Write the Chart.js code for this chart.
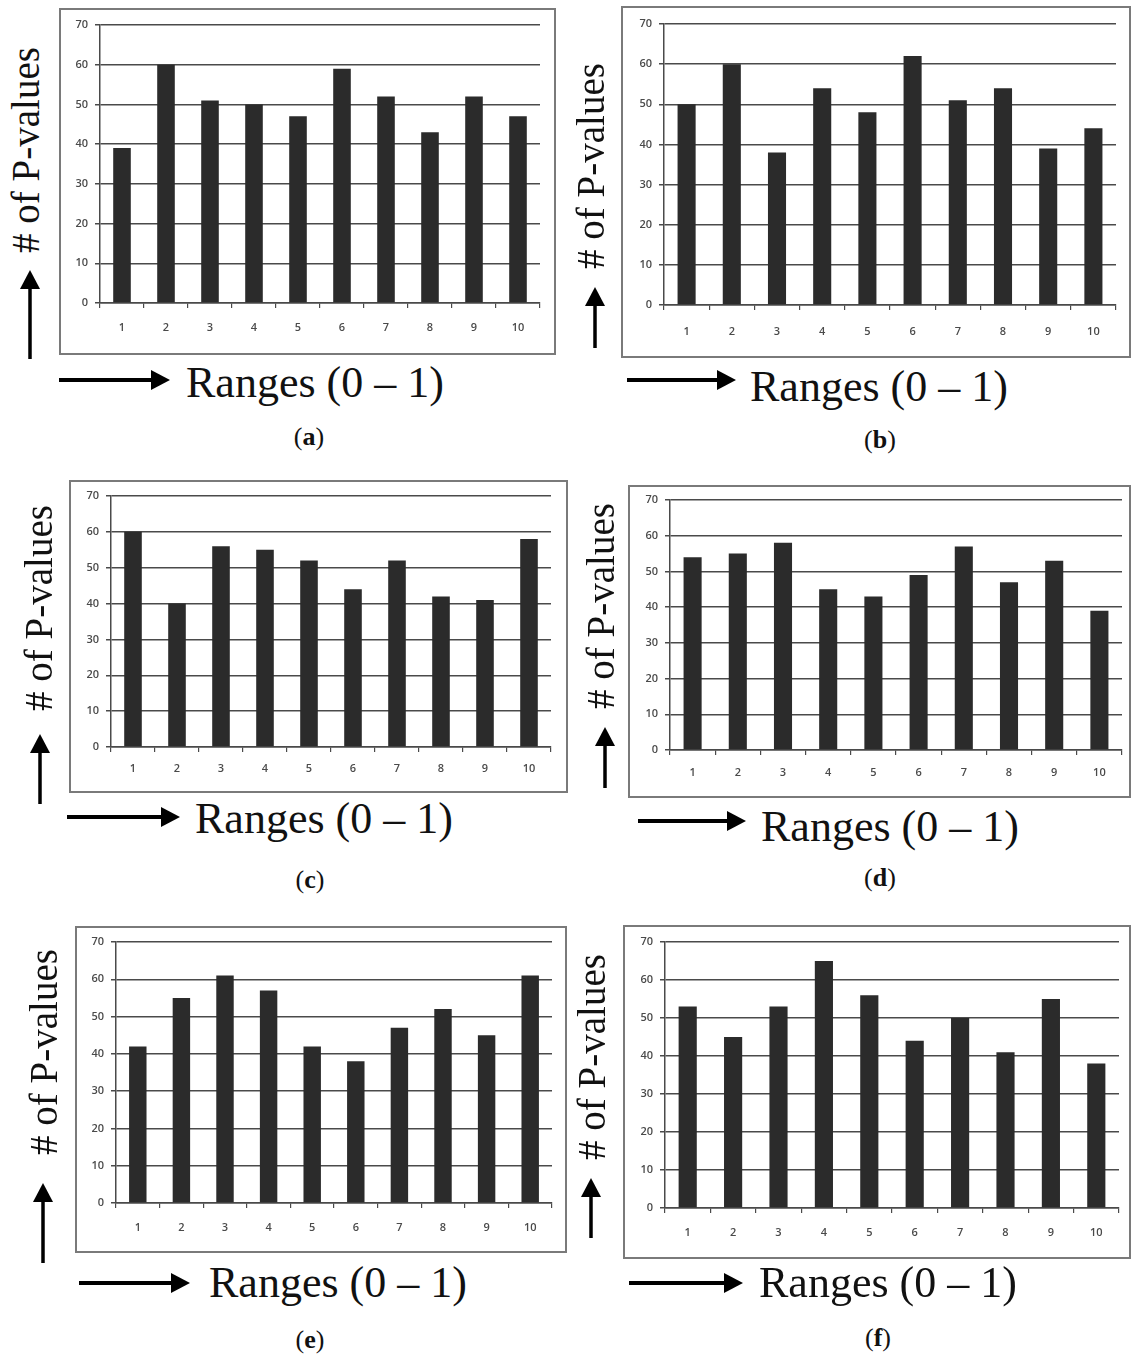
<!DOCTYPE html>
<html><head><meta charset="utf-8">
<script src="https://cdn.jsdelivr.net/npm/chart.js@4.4.1/dist/chart.umd.min.js"></script>
<style>
html,body{margin:0;padding:0;background:#fff;}
#page{position:relative;width:1132px;height:1360px;overflow:hidden;background:#fff;}
.box{position:absolute;box-sizing:border-box;border:2px solid #7a7a7a;pointer-events:none;}
canvas.ch{position:absolute;}
.ylab{position:absolute;font-family:"Liberation Serif","Times New Roman",serif;font-size:39px;line-height:1;white-space:nowrap;transform:translate(-50%,-50%) rotate(-90deg);color:#111;}
.xlab{position:absolute;font-family:"Liberation Serif","Times New Roman",serif;font-size:44px;line-height:1;white-space:nowrap;color:#111;}
.cap{position:absolute;font-family:"Liberation Serif","Times New Roman",serif;font-size:26px;line-height:1;white-space:nowrap;transform:translate(-50%,-50%);color:#111;}
svg.arr{position:absolute;left:0;top:0;}
</style></head>
<body><div id="page"><svg class="arr" id="arrows" width="1132" height="1360"></svg></div>
<script>
// ---- data ----
const categories = ['1','2','3','4','5','6','7','8','9','10'];
const yTickValues = [0,10,20,30,40,50,60,70];
const valuesA = [39,60,51,50,47,59,52,43,52,47];
const valuesB = [50,60,38,54,48,62,51,54,39,44];
const valuesC = [60,40,56,55,52,44,52,42,41,58];
const valuesD = [54,55,58,45,43,49,57,47,53,39];
const valuesE = [42,55,61,57,42,38,47,52,45,61];
const valuesF = [53,45,53,65,56,44,50,41,55,38];
const panelLetters = ['a','b','c','d','e','f'];
const yTitle = '# of P-values';
const xTitle = 'Ranges (0 \u2013 1)';

// ---- layout (positions only) ----
const panels = [
  {vals:valuesA, box:[59,8,556,355],    plot:[100,540,25,303],    tpad:13, up:[30,270,359],   right:[380,59,170],   xl:[186,398],  cap:[309,437],  yl:[25,150]},
  {vals:valuesB, box:[621,6,1131,358],  plot:[664,1116,24,305],   tpad:15, up:[595,287,348],  right:[380,627,736],  xl:[750,402],  cap:[880,440],  yl:[590,166]},
  {vals:valuesC, box:[69,480,568,793],  plot:[111,551,496,747],   tpad:10, up:[40,734,804],   right:[817,67,180],   xl:[195,834],  cap:[310,880],  yl:[38,608]},
  {vals:valuesD, box:[628,485,1131,798],plot:[670,1122,500,750],  tpad:11, up:[605,727,788],  right:[821,638,746],  xl:[761,842],  cap:[880,878],  yl:[600,606]},
  {vals:valuesE, box:[75,926,567,1253], plot:[116,552,942,1203],  tpad:13, up:[43,1183,1263], right:[1283,79,190],  xl:[209,1298], cap:[310,1340], yl:[43,1052]},
  {vals:valuesF, box:[623,925,1131,1259],plot:[665,1119,942,1208],tpad:13, up:[591,1178,1238],right:[1283,629,743], xl:[759,1298], cap:[878,1338], yl:[591,1057]}
];

const page = document.getElementById('page');
const svg = document.getElementById('arrows');
const NS = 'http://www.w3.org/2000/svg';
function svgEl(tag, attrs){const e=document.createElementNS(NS,tag);for(const k in attrs)e.setAttribute(k,attrs[k]);svg.appendChild(e);return e;}

const tickFont = {family:'"Open Sans", "Liberation Sans", sans-serif', size:11, weight:'600'};
const gridCol = '#4a4a4a';

panels.forEach((p, i) => {
  const [l,t,r,b] = p.box;
  const [x0,x1,yTop,yBot] = p.plot;
  const W = r - l, H = b - t;
  const cv = document.createElement('canvas');
  cv.className = 'ch';
  cv.width = W; cv.height = H;
  cv.style.left = l + 'px'; cv.style.top = t + 'px';
  cv.style.width = W + 'px'; cv.style.height = H + 'px';
  page.appendChild(cv);
  const bx = document.createElement('div');
  bx.className = 'box';
  bx.style.left = l + 'px'; bx.style.top = t + 'px';
  bx.style.width = W + 'px'; bx.style.height = H + 'px';
  page.appendChild(bx);

  new Chart(cv, {
    type: 'bar',
    data: { labels: categories, datasets: [{ data: p.vals, backgroundColor: '#2b2b2b', borderWidth: 0, categoryPercentage: 1, barPercentage: 0.4 }] },
    options: {
      responsive: false, animation: false, devicePixelRatio: 1,
      layout: { padding: { left: 0, top: yTop - t, right: r - x1, bottom: 0 } },
      plugins: { legend: { display: false }, tooltip: { enabled: false } },
      scales: {
        x: {
          grid: { display: true, drawOnChartArea: false, drawTicks: true, tickLength: 5, offset: true, color: gridCol, lineWidth: 1.2 },
          border: { display: true, color: gridCol, width: 1.5 },
          ticks: { font: tickFont, color: '#4a4a4a', padding: p.tpad, maxRotation: 0 },
          afterFit: (s) => { s.height = b - yBot; }
        },
        y: {
          min: 0, max: 70,
          afterBuildTicks: (s) => { s.ticks = yTickValues.map(v => ({value: v})); },
          grid: { color: gridCol, lineWidth: 1.5, tickLength: 5, drawTicks: true },
          border: { display: true, color: gridCol, width: 1.5 },
          ticks: { font: tickFont, color: '#4a4a4a', padding: 7 },
          afterFit: (s) => { s.width = x0 - l; }
        }
      }
    }
  });

  const yl = document.createElement('div');
  yl.className = 'ylab'; yl.textContent = yTitle;
  yl.style.left = p.yl[0] + 'px'; yl.style.top = p.yl[1] + 'px';
  page.appendChild(yl);
  const xl = document.createElement('div');
  xl.className = 'xlab'; xl.textContent = xTitle;
  xl.style.left = p.xl[0] + 'px'; xl.style.top = (p.xl[1] - 36.85) + 'px';
  page.appendChild(xl);
  const cp = document.createElement('div');
  cp.className = 'cap';
  cp.innerHTML = '(<b>' + panelLetters[i] + '</b>)';
  cp.style.left = p.cap[0] + 'px'; cp.style.top = p.cap[1] + 'px';
  page.appendChild(cp);

  const [ux, ut, ub] = p.up;
  svgEl('line', {x1:ux, y1:ub, x2:ux, y2:ut+17, stroke:'#000', 'stroke-width':3.5});
  svgEl('polygon', {points:`${ux-10},${ut+19} ${ux+10},${ut+19} ${ux},${ut}`, fill:'#000'});
  const [ry, rx0, rx1] = p.right;
  svgEl('line', {x1:rx0, y1:ry, x2:rx1-16, y2:ry, stroke:'#000', 'stroke-width':4});
  svgEl('polygon', {points:`${rx1-19},${ry-10} ${rx1-19},${ry+10} ${rx1},${ry}`, fill:'#000'});
});
</script>
</body></html>
